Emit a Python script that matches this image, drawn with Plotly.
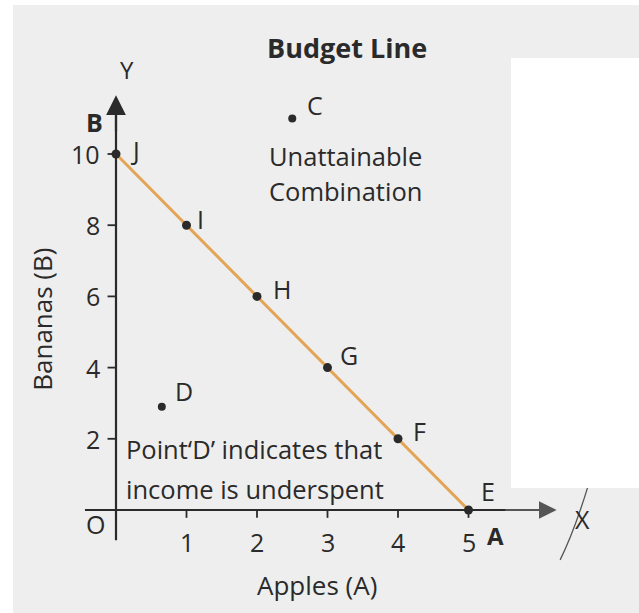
import plotly.graph_objects as go

# Budget line: combinations of apples (A) and bananas (B) that use the whole income
apples = [0, 1, 2, 3, 4, 5]
bananas = [10, 8, 6, 4, 2, 0]
line_labels = ["J", "I", "H", "G", "F", "E"]
# label offsets in px (xshift, yshift) for each budget point
line_label_shift = [(13, 4), (8, 6), (14, 7), (10, 13), (13, 8), (10, 19)]

# Points off the line
extra_x = [2.5, 0.65]
extra_y = [11.0, 2.9]
extra_labels = ["C", "D"]
extra_label_shift = [(13, 13), (11, 16)]

x_ticks = [1, 2, 3, 4, 5]
y_ticks = [2, 4, 6, 8, 10]

W, H = 639, 613
# pixel <-> data mapping used for the axis ranges (origin and unit sizes)
ox, oy, ux, uy = 116.0, 510.0, 70.5, 35.6
x_range = [(0 - ox) / ux, (W - ox) / ux]
y_range = [(oy - H) / uy, (oy - 0) / uy]

INK = "#2a2a2a"
FONT = "Open Sans"
BG = "#eeeeee"

fig = go.Figure()

# budget line
fig.add_trace(go.Scatter(
    x=apples, y=bananas, mode="lines",
    line=dict(color="#e3a455", width=3), hoverinfo="skip", showlegend=False,
))
# points on the line
fig.add_trace(go.Scatter(
    x=apples, y=bananas, mode="markers",
    marker=dict(color=INK, size=9), hoverinfo="skip", showlegend=False,
))
# points C and D
fig.add_trace(go.Scatter(
    x=extra_x, y=extra_y, mode="markers",
    marker=dict(color=INK, size=8), hoverinfo="skip", showlegend=False,
))

shapes = []
# axis lines (extending a little past the origin)
shapes.append(dict(type="line", xref="x", yref="y", x0=-0.44, y0=0, x1=5.9, y1=0,
                   line=dict(color=INK, width=2.2), layer="below"))
shapes.append(dict(type="line", xref="x", yref="y", x0=0, y0=-0.85, x1=0, y1=11.2,
                   line=dict(color=INK, width=2.2), layer="below"))
# tick marks
for t in x_ticks:
    shapes.append(dict(type="line", xref="x", yref="y", x0=t, x1=t, y0=0, y1=-0.22,
                       line=dict(color=INK, width=1.8), layer="below"))
for t in y_ticks:
    shapes.append(dict(type="line", xref="x", yref="y", x0=-0.12, x1=0, y0=t, y1=t,
                       line=dict(color=INK, width=1.8), layer="below"))
# pen stroke through the X label
shapes.append(dict(type="path", xref="x", yref="y",
                   path="M 6.3,-1.4 Q 6.5,-0.6 6.7,0.7",
                   line=dict(color="#555555", width=1.3), layer="below"))
# blank panel on the right of the page and the white page margins
shapes.append(dict(type="rect", xref="paper", yref="paper",
                   x0=511 / W, x1=1, y0=1 - 488 / H, y1=1 - 58 / H,
                   fillcolor="white", line=dict(width=0), layer="above"))
shapes.append(dict(type="rect", xref="paper", yref="paper",
                   x0=0, x1=13 / W, y0=0, y1=1,
                   fillcolor="white", line=dict(width=0), layer="above"))
shapes.append(dict(type="rect", xref="paper", yref="paper",
                   x0=0, x1=1, y0=1 - 5 / H, y1=1,
                   fillcolor="white", line=dict(width=0), layer="above"))

ann = []


def txt(x, y, s, size=25, bold=False, xanchor="center", yanchor="middle",
        angle=0, xshift=0, yshift=0):
    if bold:
        s = "<b>" + s + "</b>"
    ann.append(dict(x=x, y=y, xref="x", yref="y", text=s, showarrow=False,
                    xanchor=xanchor, yanchor=yanchor, textangle=angle,
                    xshift=xshift, yshift=yshift,
                    font=dict(family=FONT, size=size, color=INK)))


# arrow heads on the axes
ann.append(dict(x=6.25, y=0, ax=5.5, ay=0, xref="x", yref="y", axref="x", ayref="y",
                text="", showarrow=True, arrowhead=2, arrowsize=1.6, arrowwidth=2.2,
                arrowcolor="#555555"))
ann.append(dict(x=0, y=11.65, ax=0, ay=10.6, xref="x", yref="y", axref="x", ayref="y",
                text="", showarrow=True, arrowhead=2, arrowsize=1.8, arrowwidth=2.2,
                arrowcolor=INK))

# point labels
for a, b, s, (dx, dy) in zip(apples, bananas, line_labels, line_label_shift):
    txt(a, b, s, size=25, xanchor="left", xshift=dx, yshift=dy)
for a, b, s, (dx, dy) in zip(extra_x, extra_y, extra_labels, extra_label_shift):
    txt(a, b, s, size=25, xanchor="left", xshift=dx, yshift=dy)

# tick labels
for t in x_ticks:
    txt(t, -0.9, str(t), size=25)
for t in y_ticks:
    txt(-0.2, t, str(t), size=25, xanchor="right")

# axis names and other text
txt(3.27, 13.0, "Budget Line", size=27, bold=True)
txt(0.15, 12.36, "Y", size=24)
txt(-0.3, 10.9, "B", size=25, bold=True)
txt(-0.29, -0.4, "O", size=25)
txt(5.38, -0.73, "A", size=24, bold=True)
txt(6.62, -0.25, "X", size=25)
txt(2.85, -2.1, "Apples (A)", size=26)
txt(-1.06, 5.35, "Bananas (B)", size=26, angle=-90)
txt(3.25, 9.95, "Unattainable", size=25.5)
txt(3.25, 8.95, "Combination", size=25.5)
txt(0.12, 1.72, "Point\u2018D\u2019 indicates that", size=25.5, xanchor="left")
txt(0.12, 0.58, "income is underspent", size=25.5, xanchor="left")

fig.update_layout(
    width=W, height=H,
    margin=dict(l=0, r=0, t=0, b=0),
    paper_bgcolor=BG, plot_bgcolor=BG,
    xaxis=dict(range=x_range, visible=False, fixedrange=True),
    yaxis=dict(range=y_range, visible=False, fixedrange=True),
    shapes=shapes, annotations=ann, showlegend=False,
)

fig.write_html("out.html")
